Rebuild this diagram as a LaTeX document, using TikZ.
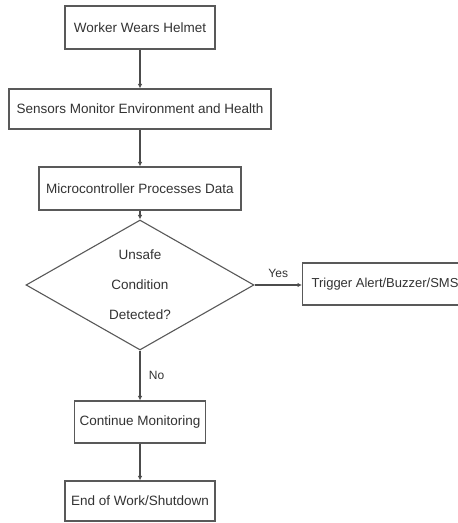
\documentclass[tikz,border=0pt]{standalone}
\usepackage{fontspec}
\setmainfont{Liberation Sans}
\usetikzlibrary{shapes.geometric,arrows.meta}
\begin{document}
\begin{tikzpicture}[x=1pt,y=1pt,
  box/.style={draw=black!65,line width=1.1pt,rectangle,inner sep=0pt,font=\fontsize{13.5}{15}\selectfont,text=black!80},
  conn/.style={draw=black!70,line width=1.1pt,-{Latex[length=4.5pt,width=4.5pt]}},
  lbl/.style={font=\fontsize{12}{14}\selectfont,text=black!80}]
\clip (0,0) rectangle (458,523);
\fill[white] (0,0) rectangle (458,523);
\node[box,minimum width=150pt,minimum height=43pt] (b1) at (140,495.5) {Worker Wears Helmet};
\node[box,minimum width=262pt,minimum height=40pt] (b2) at (140,414) {Sensors Monitor Environment and Health};
\node[box,minimum width=202pt,minimum height=43pt] (b3) at (140,334.5) {Microcontroller Processes Data};
\node[box,diamond,aspect=1.754,minimum width=228pt,minimum height=130pt,align=center,font=\fontsize{13.5}{30}\selectfont] (d) at (140,238) {Unsafe\\Condition\\Detected?};
\node[box,anchor=west,minimum width=170pt,minimum height=42pt,align=left,font=\fontsize{13}{15}\selectfont] (t) at (302,239) {\hspace*{7pt}Trigger Alert/Buzzer/SMS\hspace*{12pt}};
\node[box,minimum width=131pt,minimum height=42pt] (c) at (140,101) {Continue Monitoring};
\node[box,minimum width=150pt,minimum height=40pt] (e) at (140,22) {End of Work/Shutdown};
\draw[conn] (b1) -- (b2);
\draw[conn] (b2) -- (b3);
\draw[conn] (b3.south) -- (d.north);
\draw[conn] (d.east) -- (d.east -| t.west) node[lbl,midway,above=3pt] {Yes};
\draw[conn] (d.south) -- (c.north) node[lbl,midway,right=5pt] {No};
\draw[conn] (c) -- (e);
\end{tikzpicture}
\end{document}
